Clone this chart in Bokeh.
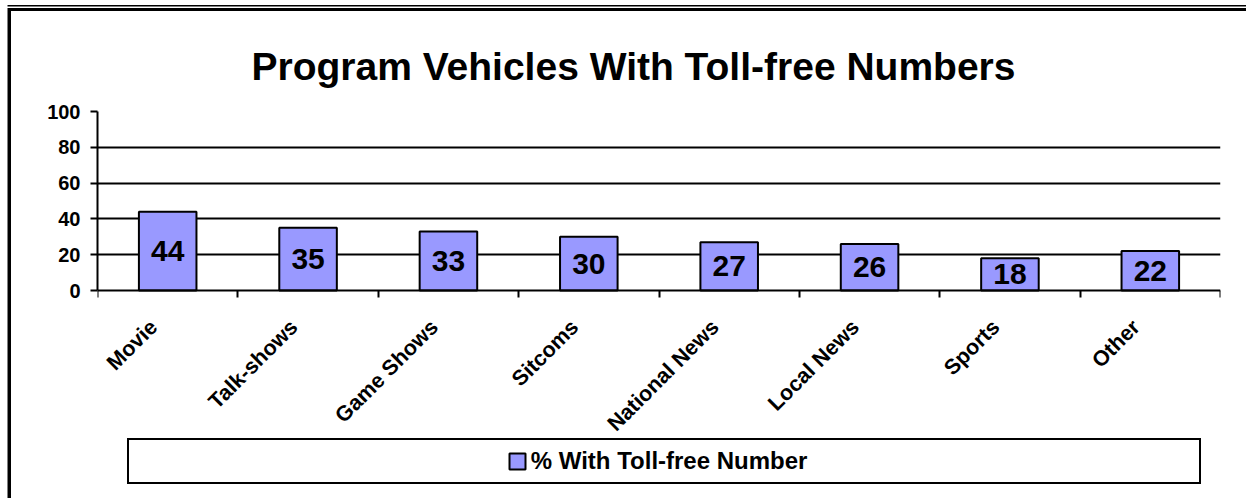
from bokeh.plotting import figure
from bokeh.models import Range1d, FixedTicker, ColumnDataSource, LabelSet, Legend, LegendItem
from bokeh.core.properties import value
from bokeh.embed import file_html
from bokeh.resources import INLINE
import math

categories = ["Movie", "Talk-shows", "Game Shows", "Sitcoms", "National News", "Local News", "Sports", "Other"]
values = [44, 35, 33, 30, 27, 26, 18, 22]
y_ticks = [0, 20, 40, 60, 80, 100]
series_name = "% With Toll-free Number"
title_text = "Program Vehicles With Toll-free Numbers"

FONT = "Liberation Sans"
BAR = "#9999FF"

W, H = 1246, 498
FRAME_L, FRAME_R, FRAME_T, ZERO_Y = 97, 1220, 111, 290   # pixel layout of the plotting area
y_max = 100
# the frame reaches the bottom of the canvas; the part below 0 holds category labels and legend
y_min = -y_max * (H - ZERO_Y) / (ZERO_Y - FRAME_T)

centers = [i + 0.5 for i in range(len(categories))]
label_pos = [c - 0.1 for c in centers]
src = ColumnDataSource(dict(x=centers, top=values, mid=[v / 2 for v in values],
                            lab=[str(v) for v in values]))

p = figure(width=W, height=H, output_backend="svg", toolbar_location=None,
           x_range=Range1d(0, len(categories)), y_range=Range1d(y_min, y_max),
           min_border_left=FRAME_L, min_border_right=W - FRAME_R, min_border_top=FRAME_T,
           min_border_bottom=0)
p.background_fill_color = "white"
p.border_fill_alpha = 0
p.outline_line_color = None
# chart-area frame lines along the top and left edges (double top rule)
p.styles = {"box-shadow": "inset 7.5px 0 0 0 white, inset 0 5px 0 0 white, inset 0 6.5px 0 0 black, "
                          "inset 0 8px 0 0 white, inset 0 11px 0 0 black, inset 11px 0 0 0 black",
            "background-color": "white"}

p.title.text = title_text
p.title.text_font = FONT
p.title.text_font_size = "39px"
p.title.text_font_style = "bold"
p.title.align = "left"
p.title.offset = 154
p.title.standoff = 48
p.title.text_color = "black"

# grid
p.xgrid.visible = False
p.ygrid.ticker = FixedTicker(ticks=y_ticks[1:])
p.ygrid.grid_line_color = "black"
p.ygrid.grid_line_width = 2

# y axis
ya = p.yaxis[0]
ya.ticker = FixedTicker(ticks=y_ticks)
ya.bounds = (0, y_max)
ya.axis_line_color = "black"
ya.axis_line_width = 2
ya.major_tick_line_color = "black"
ya.major_tick_line_width = 2
ya.major_tick_out = 7
ya.major_tick_in = 0
ya.minor_tick_line_color = None
ya.major_label_text_font = FONT
ya.major_label_text_font_size = "20px"
ya.major_label_text_font_style = "bold"
ya.major_label_text_color = "black"
ya.major_label_standoff = 10

# x axis (sits on the value 0 line)
xa = p.xaxis[0]
xa.fixed_location = 0
xa.ticker = FixedTicker(ticks=label_pos, minor_ticks=list(range(len(categories) + 1)))
xa.major_label_overrides = {c: n for c, n in zip(label_pos, categories)}
xa.axis_line_color = "black"
xa.axis_line_width = 2
xa.major_tick_line_color = None
xa.minor_tick_line_color = "black"
xa.minor_tick_line_width = 2
xa.minor_tick_out = 7
xa.minor_tick_in = 0
xa.major_label_orientation = math.pi / 4
xa.major_label_text_font = FONT
xa.major_label_text_font_size = "21.5px"
xa.major_label_text_font_style = "bold"
xa.major_label_text_color = "black"
xa.major_label_standoff = 26

bars = p.vbar(x="x", top="top", width=0.41, bottom=0, source=src,
              fill_color=BAR, line_color="black", line_width=2)

labels = LabelSet(x="x", y="mid", text="lab", source=src, text_align="center",
                  text_baseline="middle", text_font=value(FONT), text_font_size="30px",
                  text_font_style="bold", text_color="black")
p.add_layout(labels)

# invisible spacer entries widen the legend frame so it spans the chart
spacer = p.vbar(x=[], top=[], width=0.1, fill_alpha=0, line_alpha=0)
NB = "\u00a0"
legend = Legend(items=[LegendItem(label=NB * 52, renderers=[spacer]),
                       LegendItem(label=series_name, renderers=[bars]),
                       LegendItem(label=NB * 54, renderers=[spacer])],
                location=(127 - FRAME_L, H - 484), orientation="horizontal", padding=7, margin=0,
                spacing=0, glyph_width=20, glyph_height=20, label_standoff=4,
                border_line_color="black", border_line_alpha=1, border_line_width=2.5,
                background_fill_color="white", background_fill_alpha=1,
                label_text_font=FONT, label_text_font_size="24px", label_text_font_style="bold",
                label_text_color="black")
p.add_layout(legend, "center")

open("out.html", "w").write(file_html(p, INLINE))
